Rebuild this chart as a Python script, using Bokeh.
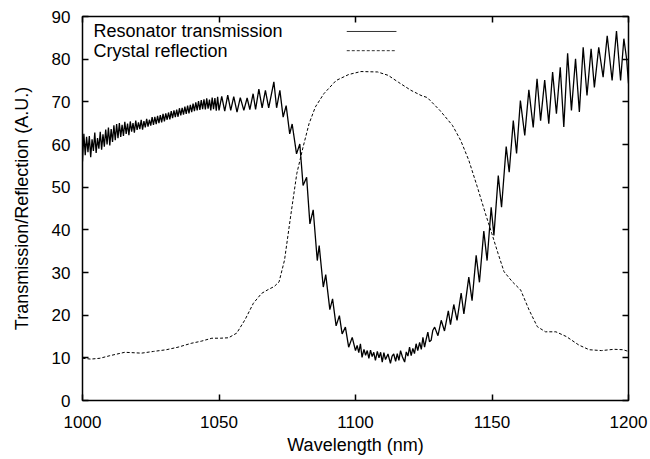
from bokeh.plotting import figure
from bokeh.models import LinearAxis, FixedTicker, Range1d, Label, Arrow
from bokeh.embed import file_html
from bokeh.resources import INLINE

FONT = "Liberation Sans"

X_MIN, X_MAX = 1000, 1200
Y_MIN, Y_MAX = 0, 90
x_ticks = [1000, 1050, 1100, 1150, 1200]
y_ticks = [0, 10, 20, 30, 40, 50, 60, 70, 80, 90]

series_names = ["Resonator transmission", "Crystal reflection"]

# Resonator transmission
trans_nm = [
    1000.0, 1000.5, 1001.0, 1001.5, 1002.0, 1002.5, 1003.0, 1003.5, 1004.0, 1004.5,
    1005.0, 1005.5, 1006.0, 1006.5, 1007.0, 1007.5, 1008.0, 1008.5, 1009.0, 1009.5,
    1010.0, 1010.5, 1011.0, 1011.5, 1012.0, 1012.5, 1013.0, 1013.5, 1014.0, 1014.5,
    1015.0, 1015.5, 1016.0, 1016.5, 1017.0, 1017.5, 1018.0, 1018.5, 1019.0, 1019.5,
    1020.0, 1020.5, 1021.0, 1021.5, 1022.0, 1022.5, 1023.0, 1023.5, 1024.0, 1024.5,
    1025.0, 1025.5, 1026.0, 1026.5, 1027.0, 1027.5, 1028.0, 1028.5, 1029.0, 1029.5,
    1030.0, 1030.5, 1031.0, 1031.5, 1032.0, 1032.5, 1033.0, 1033.5, 1034.0, 1034.5,
    1035.0, 1035.5, 1036.0, 1036.5, 1037.0, 1037.5, 1038.0, 1038.5, 1039.0, 1039.5,
    1040.0, 1040.5, 1041.0, 1041.5, 1042.0, 1042.5, 1043.0, 1043.5, 1044.0, 1044.5,
    1045.0, 1045.5, 1046.0, 1046.5, 1047.0, 1047.5, 1048.0, 1048.5, 1049.0, 1049.5,
    1050.0,
    1051.0, 1052.1, 1053.2, 1054.3, 1055.4, 1056.6, 1057.8, 1059.1, 1060.3, 1061.3,
    1062.5, 1063.4, 1064.6, 1065.8, 1067.0, 1068.2, 1070.1, 1071.1, 1072.3, 1073.5,
    1074.6, 1075.9, 1076.8, 1078.4, 1079.6, 1080.8, 1082.1, 1083.3, 1084.5, 1086.0,
    1086.7, 1088.2, 1089.1, 1090.6, 1091.6, 1092.9, 1094.1, 1095.1, 1096.3, 1097.5,
    1098.8, 1100.0, 1100.6, 1101.2, 1101.8, 1102.4, 1103.1, 1103.7, 1104.3, 1104.9,
    1105.5, 1106.1, 1106.7, 1107.3, 1108.0, 1108.6, 1109.2, 1109.8, 1110.4, 1111.0,
    1111.9, 1112.8, 1113.4, 1114.0, 1114.7, 1115.3, 1115.9, 1116.5, 1117.2, 1118.0,
    1118.6, 1119.2, 1119.8, 1120.4, 1121.0, 1121.6, 1122.2, 1122.8, 1123.5, 1124.1,
    1124.7, 1125.3, 1125.9, 1126.5, 1127.1, 1127.7, 1128.3, 1129.0, 1130.2, 1131.4,
    1132.6, 1134.0, 1134.8,
    1136.0, 1137.2, 1138.7, 1139.7, 1141.5, 1142.7, 1144.2, 1145.4, 1147.0, 1148.2,
    1149.7, 1150.7, 1152.3, 1153.5, 1155.2, 1156.3, 1157.8, 1159.0, 1160.4, 1162.0,
    1163.5, 1165.1, 1166.5, 1167.8, 1169.3, 1170.8, 1172.2, 1173.6, 1175.0, 1176.3,
    1177.7, 1179.1, 1180.6, 1182.0, 1183.4, 1184.8, 1186.3, 1187.5, 1189.1, 1190.7,
    1192.2, 1194.0, 1195.6, 1197.1, 1198.3, 1199.3, 1200.0,
]
trans_val = [
    56.0, 62.5, 57.5, 61.8, 58.2, 62.0, 57.0, 61.2, 58.5, 62.8,
    58.0, 61.5, 59.0, 63.0, 58.8, 62.4, 59.5, 63.5, 60.0, 64.0,
    59.8, 63.6, 60.6, 64.5, 61.0, 64.8, 61.5, 65.0, 61.8, 64.6,
    62.0, 65.3, 62.5, 64.9, 62.2, 65.4, 63.0, 65.0, 62.8, 65.6,
    63.4, 65.2, 63.6, 65.8, 63.5, 65.5, 64.0, 66.0, 64.2, 65.8,
    64.4, 66.4, 64.6, 66.5, 64.8, 66.7, 65.0, 66.9, 65.2, 67.2,
    65.4, 67.3, 65.8, 67.5, 65.9, 67.8, 66.2, 68.0, 66.4, 68.2,
    66.5, 68.5, 66.8, 68.6, 67.0, 68.9, 67.2, 69.1, 67.3, 69.3,
    67.6, 69.6, 67.8, 69.9, 68.0, 70.2, 68.1, 70.4, 68.3, 70.6,
    68.2, 70.8, 68.4, 70.5, 68.0, 71.0, 68.3, 70.9, 67.9, 71.2,
    68.0,
    71.3, 67.8, 71.6, 68.0, 71.2, 67.6, 71.0, 68.0, 70.9, 68.2,
    71.9, 68.2, 73.0, 68.6, 72.7, 68.6, 74.7, 68.6, 72.7, 66.4,
    69.1, 62.5, 64.8, 57.8, 60.1, 50.4, 52.3, 41.4, 44.7, 32.8,
    36.3, 26.6, 29.5, 21.3, 23.8, 17.5, 19.9, 15.6, 17.2, 12.5,
    14.8, 11.7, 12.9, 11.2, 13.3, 10.1, 12.0, 10.6, 11.7, 9.9,
    11.8, 10.3, 11.3, 9.4, 11.5, 10.0, 11.3, 9.0, 11.2, 9.6,
    10.9, 8.7, 10.4, 10.9, 9.2, 11.0, 9.4, 11.7, 10.2, 9.0,
    11.4, 10.4, 12.5, 10.5, 12.2, 11.0, 13.3, 11.7, 13.6, 12.0,
    14.8, 12.5, 14.4, 16.0, 13.8, 14.1, 16.4, 17.2, 15.2, 18.8,
    16.3, 21.0, 17.8,
    22.5, 18.8, 25.2, 20.3, 28.9, 23.4, 34.0, 27.7, 39.7, 32.8,
    45.3, 38.7, 52.7, 45.3, 59.5, 53.5, 65.6, 57.9, 70.3, 62.1,
    72.8, 64.0, 75.4, 65.6, 75.1, 64.9, 77.0, 67.2, 78.1, 64.1,
    81.4, 68.0, 80.1, 67.6, 82.8, 71.5, 82.4, 73.4, 82.8, 75.8,
    85.5, 75.0, 86.6, 75.0, 84.8, 80.1, 74.3,
]

# Crystal reflection
refl_nm = [
    1000.0, 1003.0, 1006.4, 1010.0, 1015.5, 1021.6, 1026.0, 1030.7, 1035.0, 1039.8,
    1043.5, 1047.4, 1050.5, 1053.5, 1056.5, 1059.5, 1062.6, 1065.6, 1068.0, 1070.2,
    1072.0, 1074.0, 1076.2, 1078.5, 1080.8, 1083.0, 1085.3, 1088.4, 1092.9, 1097.5,
    1102.0, 1108.1, 1112.0, 1115.7, 1120.3, 1124.0, 1126.3, 1130.9, 1135.5, 1138.5,
    1141.5, 1144.6, 1147.6, 1149.9, 1152.2, 1154.4, 1157.5, 1160.5, 1163.6, 1166.6,
    1169.6, 1173.4, 1177.2, 1181.8, 1185.6, 1190.1, 1194.7, 1198.0, 1200.0,
]
refl_val = [
    9.9, 9.7, 9.9, 10.5, 11.3, 11.1, 11.5, 11.9, 12.5, 13.4,
    13.9, 14.6, 14.6, 14.7, 15.8, 18.9, 22.8, 25.1, 26.0, 26.7,
    27.8, 32.9, 43.0, 53.2, 59.4, 64.9, 68.8, 71.9, 75.0, 76.4,
    77.1, 77.0, 76.2, 74.6, 72.7, 71.5, 71.0, 68.0, 64.5, 61.0,
    56.3, 50.1, 43.8, 39.2, 34.5, 30.2, 27.8, 25.9, 21.2, 17.3,
    16.1, 16.1, 15.0, 13.0, 11.9, 11.7, 12.0, 11.9, 11.5,
]

p = figure(
    width=650, height=459,
    x_range=Range1d(X_MIN, X_MAX), y_range=Range1d(Y_MIN, Y_MAX),
    output_backend="svg", toolbar_location=None,
    min_border_left=82, min_border_right=22, min_border_top=16, min_border_bottom=59,
    x_axis_label="Wavelength (nm)", y_axis_label="Transmission/Reflection (A.U.)",
)
p.grid.visible = False
p.outline_line_color = "black"
p.outline_line_width = 1.5
p.background_fill_color = "white"
p.border_fill_color = "white"


def style_axis(ax, ticks, show_labels):
    ax.ticker = FixedTicker(ticks=ticks)
    ax.major_tick_in = 6
    ax.major_tick_out = 0
    ax.minor_tick_in = 0
    ax.minor_tick_out = 0
    ax.major_tick_line_color = "black"
    ax.major_tick_line_width = 1.5
    ax.axis_line_color = None
    if show_labels:
        ax.major_label_text_font = FONT
        ax.major_label_text_font_size = "17px"
        ax.major_label_text_color = "black"
        ax.axis_label_text_font = FONT
        ax.axis_label_text_font_size = "18px"
        ax.axis_label_text_font_style = "normal"
        ax.axis_label_text_color = "black"
    else:
        ax.major_label_text_font_size = "0px"
        ax.major_label_text_color = None
        ax.major_label_standoff = 0


style_axis(p.xaxis[0], x_ticks, True)
p.xaxis[0].major_label_standoff = 15
p.xaxis[0].axis_label_standoff = 4
style_axis(p.yaxis[0], y_ticks, True)
p.yaxis[0].major_label_standoff = 12
p.yaxis[0].axis_label_standoff = 17

top_ax = LinearAxis()
style_axis(top_ax, x_ticks, False)
p.add_layout(top_ax, "above")
right_ax = LinearAxis()
style_axis(right_ax, y_ticks, False)
p.add_layout(right_ax, "right")

p.line(trans_nm, trans_val, line_color="black", line_width=1.3)
p.line(refl_nm, refl_val, line_color="black", line_width=1, line_dash="3 2")

# gnuplot-style key: text on the left, line sample on the right
xr = X_MAX - X_MIN
yr = Y_MAX - Y_MIN
key_text_x = X_MIN + 0.02 * xr
key_line_x0 = X_MIN + 0.484 * xr
key_line_x1 = X_MIN + 0.575 * xr
key_rows = [Y_MIN + 0.961 * yr, Y_MIN + 0.911 * yr]
key_dash = ["solid", "3 2"]
for name, ky, dash in zip(series_names, key_rows, key_dash):
    p.add_layout(Label(x=key_text_x, y=ky, text=name, text_font=FONT,
                       text_font_size="18px", text_color="black",
                       text_baseline="middle", text_align="left"))
    p.add_layout(Arrow(end=None, x_start=key_line_x0, y_start=ky,
                       x_end=key_line_x1, y_end=ky, line_color="#333333",
                       line_width=1, line_dash=dash))

open("out.html", "w").write(file_html(p, INLINE))
